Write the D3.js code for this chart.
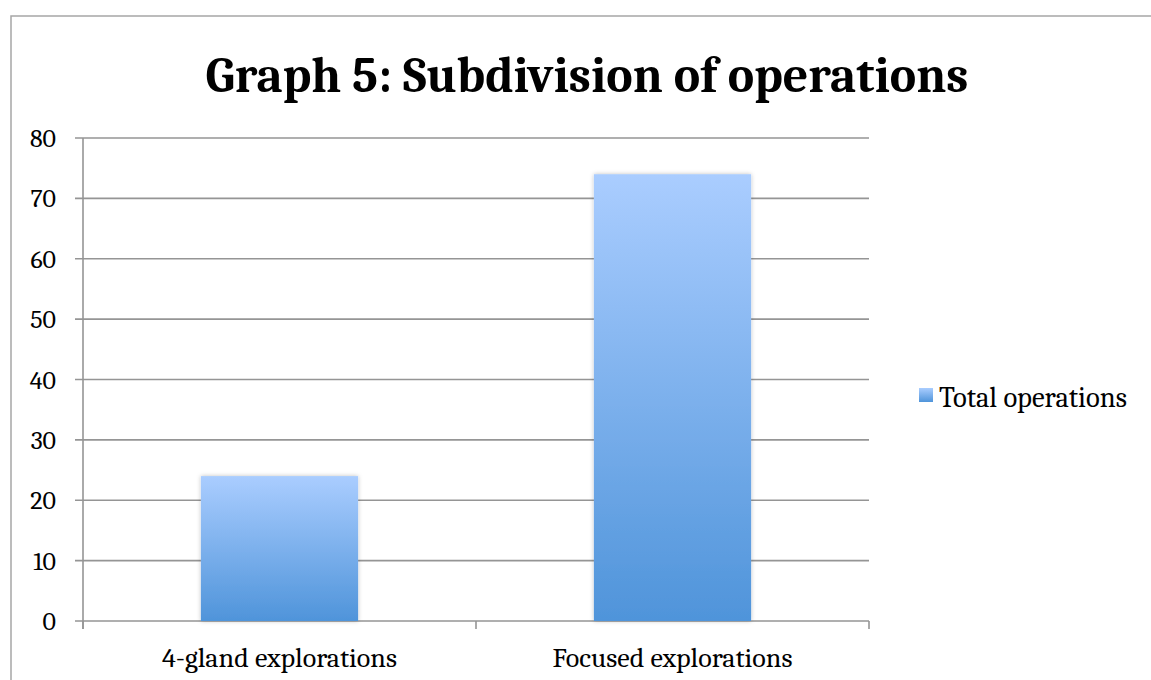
<!DOCTYPE html>
<html>
<head>
<meta charset="utf-8">
<script src="https://cdn.jsdelivr.net/npm/d3@7"></script>
<style>
  html, body { margin: 0; padding: 0; background: #fff; }
  svg { display: block; }
</style>
</head>
<body>
<svg id="chart" width="1151" height="680"></svg>
<script>
// ─── Data ────────────────────────────────────────────────────────────────────
const categories = ['4-gland explorations', 'Focused explorations'];
const totalOperations = [24, 74];
const yTicks = [0, 10, 20, 30, 40, 50, 60, 70, 80];
const seriesName = 'Total operations';
const title = 'Graph 5: Subdivision of operations';

// ─── Style ───────────────────────────────────────────────────────────────────
const C = {
  font: 'Cambria, "Liberation Serif", "DejaVu Serif", serif',
  grid: '#959595',
  border: '#a6a6a6',
  text: '#000',
  barTop: '#aacdff',
  barBottom: '#4f94da',
};

const svg = d3.select('#chart');
const m = { left: 83, right: 282, top: 138, bottom: 59 };
const W = 1151, H = 680;
const plotW = W - m.left - m.right;
const plotH = H - m.top - m.bottom;

// scale a text's font size so it spans the given width
function fitWidth(sel, base, target) {
  sel.attr('font-size', base);
  const w = sel.node().getComputedTextLength();
  sel.attr('font-size', base * target / w);
  return base * target / w;
}

// Outer chart frame (runs past the right/bottom edges)
svg.append('rect')
  .attr('x', 11).attr('y', 16).attr('width', 1200).attr('height', 700)
  .attr('fill', '#fff').attr('stroke', C.border).attr('stroke-width', 1.5);

const defs = svg.append('defs');
const grad = defs.append('linearGradient').attr('id', 'barGrad')
  .attr('x1', 0).attr('y1', 0).attr('x2', 0).attr('y2', 1);
grad.append('stop').attr('offset', '0%').attr('stop-color', C.barTop);
grad.append('stop').attr('offset', '100%').attr('stop-color', C.barBottom);
const shadow = defs.append('filter').attr('id', 'shadow')
  .attr('x', '-10%').attr('y', '-10%').attr('width', '120%').attr('height', '120%');
shadow.append('feDropShadow').attr('dx', 0).attr('dy', 0).attr('stdDeviation', 2)
  .attr('flood-color', '#000').attr('flood-opacity', 0.25);

const g = svg.append('g').attr('transform', `translate(${m.left},${m.top})`);

const x = d3.scaleBand().domain(categories).range([0, plotW]).paddingInner(0.6).paddingOuter(0.3);
const y = d3.scaleLinear().domain([0, 80]).range([plotH, 0]);

// Gridlines
g.selectAll('line.grid').data(yTicks).enter().append('line')
  .attr('x1', -8).attr('x2', plotW)
  .attr('y1', d => y(d)).attr('y2', d => y(d))
  .attr('stroke', C.grid).attr('stroke-width', 1.6);

// Y axis line
g.append('line').attr('x1', 0).attr('x2', 0).attr('y1', 0).attr('y2', plotH + 8)
  .attr('stroke', C.grid).attr('stroke-width', 1.6);

// Category boundary ticks
const bounds = [0, plotW / 2, plotW];
g.selectAll('line.xtick').data(bounds).enter().append('line')
  .attr('x1', d => d).attr('x2', d => d).attr('y1', plotH).attr('y2', plotH + 8)
  .attr('stroke', C.grid).attr('stroke-width', 1.6);

// Bars
g.selectAll('rect.bar').data(totalOperations).enter().append('rect')
  .attr('x', (d, i) => x(categories[i]))
  .attr('y', d => y(d))
  .attr('width', x.bandwidth())
  .attr('height', d => plotH - y(d))
  .attr('fill', 'url(#barGrad)')
  .attr('filter', 'url(#shadow)');

// Category labels (size taken from the first label's span)
const cats = g.selectAll('text.cat').data(categories).enter().append('text')
  .attr('x', d => x(d) + x.bandwidth() / 2).attr('y', plotH + 46)
  .attr('text-anchor', 'middle').attr('font-family', C.font)
  .attr('fill', C.text).text(d => d);
const catSize = fitWidth(d3.select(cats.nodes()[0]), 23, 235);
cats.attr('font-size', catSize);

// Y tick labels
const yt = g.selectAll('text.ytick').data(yTicks).enter().append('text')
  .attr('x', -27).attr('y', d => y(d) + 9)
  .attr('text-anchor', 'end').attr('font-family', C.font)
  .attr('fill', C.text).text(d => d);
const tickSize = fitWidth(d3.select(yt.nodes()[yTicks.length - 1]), 23, 26);
yt.attr('font-size', tickSize);

// Title, sized to fit its span
const t = svg.append('text')
  .attr('x', 587).attr('y', 92)
  .attr('text-anchor', 'middle').attr('font-family', C.font)
  .attr('font-weight', 'bold')
  .attr('fill', C.text).text(title);
fitWidth(t, 50, 763);

// Legend
const lg = svg.append('g').attr('transform', 'translate(919,388)');
lg.append('rect').attr('width', 14).attr('height', 14).attr('fill', 'url(#barGrad)');
const lt = lg.append('text').attr('x', 20).attr('y', 19)
  .attr('font-family', C.font).attr('fill', C.text).text(seriesName);
fitWidth(lt, 23, 188);
</script>
</body>
</html>
